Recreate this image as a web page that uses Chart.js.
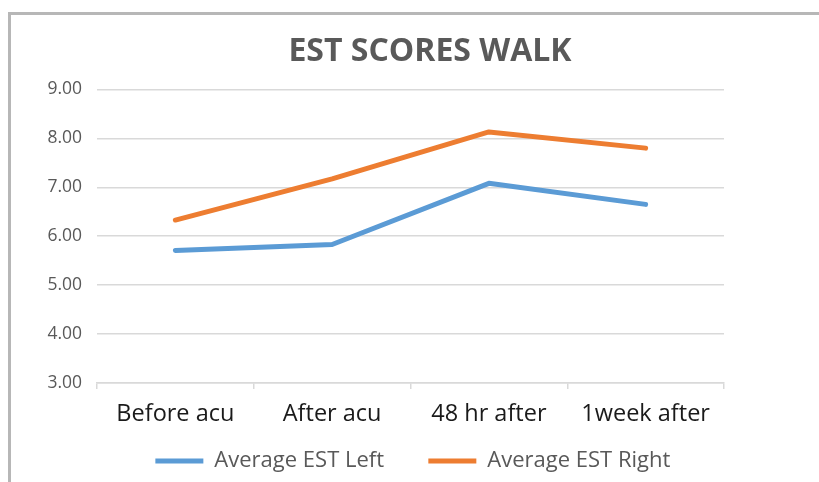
<!DOCTYPE html>
<html>
<head>
<meta charset="utf-8">
<script src="https://cdn.jsdelivr.net/npm/chart.js@4/dist/chart.umd.min.js"></script>
<style>
  body { margin: 0; background: #fff; }
  #wrap { position: absolute; left: 0; top: 0; width: 819px; height: 482px; }
  #frame { position: absolute; left: 8px; top: 12px; width: 830px; height: 500px;
           border-left: 3px solid #b7b7b7; border-top: 3px solid #b7b7b7; pointer-events: none; }
</style>
</head>
<body>
<div id="wrap"><canvas id="estChart" width="819" height="482"></canvas></div>
<div id="frame"></div>
<script>
// chart data
const categories = ['Before acu', 'After acu', '48 hr after', '1week after'];
const estLeft = [5.71, 5.83, 7.08, 6.65];
const estRight = [6.33, 7.17, 8.13, 7.80];
const yTicks = [3, 4, 5, 6, 7, 8, 9];

const blue = '#5B9BD5';
const orange = '#ED7D31';
const gridColor = '#d9d9d9';
const font = '"Open Sans", "DejaVu Sans", sans-serif';

document.addEventListener("DOMContentLoaded", function() {
    const ctx = document.getElementById('estChart').getContext('2d');
    new Chart(ctx, {
        type: 'line',
        data: {
            labels: categories,
            datasets: [{
                label: 'Average EST Left',
                data: estLeft,
                borderColor: blue,
                backgroundColor: blue,
                borderWidth: 5,
                pointRadius: 0,
                borderCapStyle: 'round',
                borderJoinStyle: 'round',
                tension: 0
            }, {
                label: 'Average EST Right',
                data: estRight,
                borderColor: orange,
                backgroundColor: orange,
                borderWidth: 5,
                pointRadius: 0,
                borderCapStyle: 'round',
                borderJoinStyle: 'round',
                tension: 0
            }]
        },
        options: {
            responsive: false,
            animation: false,
            layout: { padding: { left: 41, right: 0, top: 0, bottom: 0 } },
            scales: {
                x: {
                    offset: true,
                    afterFit: function(scale) { scale.height = 57; },
                    grid: { offset: true, drawOnChartArea: false, drawTicks: true, tickLength: 6, color: gridColor, lineWidth: 1.5 },
                    border: { display: true, color: gridColor, width: 1.5 },
                    ticks: { color: '#1a1a1a', font: { family: font, size: 23.5 }, padding: 11, maxRotation: 0 }
                },
                y: {
                    min: yTicks[0],
                    max: yTicks[yTicks.length - 1],
                    afterBuildTicks: function(scale) { scale.ticks = yTicks.map(v => ({ value: v })); },
                    afterFit: function(scale) { scale.width = 56; },
                    grid: { color: gridColor, lineWidth: 1.5, drawTicks: false },
                    border: { display: false },
                    ticks: { color: '#595959', font: { family: font, size: 17.5 }, padding: 15,
                             callback: v => Number(v).toFixed(2) }
                },
                // empty right-hand axis, only keeps the plot clear of the right margin
                yRight: {
                    position: 'right',
                    afterFit: function(scale) { scale.width = 95; },
                    grid: { drawOnChartArea: false, drawTicks: false },
                    border: { display: false },
                    ticks: { display: false }
                }
            },
            plugins: {
                title: {
                    display: true,
                    text: 'EST SCORES WALK',
                    color: '#595959',
                    font: { family: font, size: 32, weight: 'bold' },
                    padding: { top: 33, bottom: 18 }
                },
                legend: {
                    position: 'bottom',
                    labels: {
                        color: '#595959',
                        font: { family: font, size: 22 },
                        usePointStyle: true,
                        pointStyle: 'line',
                        pointStyleWidth: 48,
                        boxHeight: 5,
                        padding: 10,
                        generateLabels: function(chart) {
                            const items = Chart.defaults.plugins.legend.labels.generateLabels(chart);
                            // wider gap after each entry, as in the original
                            items.forEach(it => { it.text = it.text + '\u00a0\u00a0\u00a0\u00a0\u00a0\u00a0'; });
                            return items;
                        }
                    }
                },
                tooltip: { enabled: false }
            }
        }
    });
});
</script>
</body>
</html>
